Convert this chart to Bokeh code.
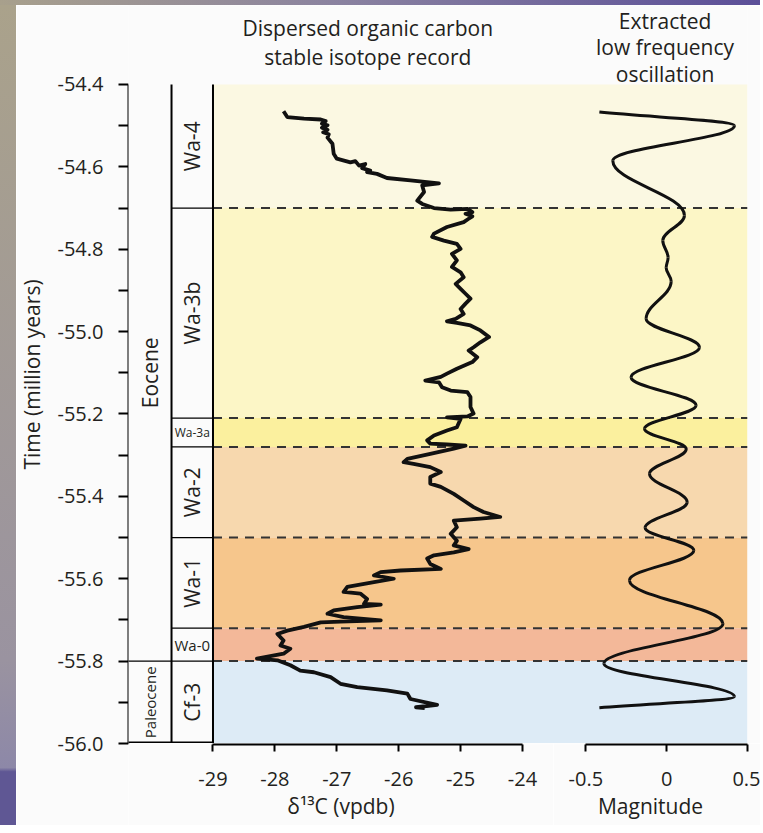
import math
from bokeh.plotting import figure
from bokeh.layouts import row, column
from bokeh.models import (ColumnDataSource, FixedTicker, Range1d, PrintfTickFormatter,
                          CustomJSTickFormatter, Div)
from bokeh.core.properties import value
from bokeh.embed import file_html
from bokeh.resources import INLINE

# ---------------- data ----------------
zone_names = ["Wa-4", "Wa-3b", "Wa-3a", "Wa-2", "Wa-1", "Wa-0", "Cf-3"]
zone_top = [-54.4, -54.7, -55.21, -55.28, -55.5, -55.72, -55.8]
zone_bottom = [-54.7, -55.21, -55.28, -55.5, -55.72, -55.8, -56.0]
zone_colors = ["#fbf8e2", "#fcf6c6", "#fbf09e", "#f7d8ae", "#f6c68c", "#f3b899", "#ddebf6"]

epoch_names = ["Eocene", "Paleocene"]
epoch_top = [-54.4, -55.8]
epoch_bottom = [-55.8, -56.0]

d13c_age = [
    -54.465, -54.479, -54.483, -54.485, -54.489, -54.495, -54.499, -54.505, -54.510, -54.516,
    -54.521, -54.529, -54.544, -54.568, -54.580, -54.589, -54.586, -54.597, -54.593, -54.603,
    -54.609, -54.613, -54.617, -54.627, -54.633, -54.640, -54.645, -54.661, -54.682, -54.690,
    -54.700, -54.704, -54.702, -54.710, -54.714, -54.720, -54.726, -54.734, -54.746, -54.762,
    -54.770, -54.779, -54.787, -54.799, -54.811, -54.827, -54.843, -54.856, -54.868, -54.884,
    -54.896, -54.908, -54.920, -54.932, -54.945, -54.957, -54.969, -54.975, -54.979, -54.985,
    -54.997, -55.013, -55.026, -55.038, -55.046, -55.062, -55.074, -55.090, -55.102, -55.110,
    -55.119, -55.123, -55.135, -55.143, -55.147, -55.159, -55.183, -55.199, -55.206, -55.208,
    -55.212, -55.232, -55.240, -55.252, -55.264, -55.272, -55.274, -55.277, -55.284, -55.297,
    -55.309, -55.317, -55.321, -55.329, -55.341, -55.353, -55.369, -55.377, -55.394, -55.410,
    -55.426, -55.438, -55.450, -55.454, -55.459, -55.475, -55.491, -55.508, -55.519, -55.528,
    -55.536, -55.543, -55.551, -55.564, -55.576, -55.580, -55.584, -55.592, -55.600, -55.608,
    -55.620, -55.632, -55.636, -55.649, -55.661, -55.663, -55.669, -55.677, -55.685, -55.693,
    -55.701, -55.704, -55.706, -55.717, -55.726, -55.734, -55.750, -55.762, -55.770, -55.782,
    -55.794, -55.798, -55.810, -55.823, -55.827, -55.839, -55.855, -55.863, -55.871, -55.879,
    -55.892, -55.906, -55.912, -55.914]
d13c_value = [
    -27.86, -27.80, -27.53, -27.26, -27.18, -27.24, -27.15, -27.24, -27.15, -27.22,
    -27.13, -27.15, -27.07, -27.05, -27.00, -26.78, -26.70, -26.64, -26.54, -26.59,
    -26.46, -26.51, -26.35, -26.19, -25.81, -25.35, -25.62, -25.59, -25.70, -25.62,
    -25.43, -25.16, -24.89, -24.81, -24.92, -24.81, -24.87, -24.95, -25.22, -25.43,
    -25.46, -25.27, -25.06, -25.00, -25.14, -25.06, -25.14, -25.00, -24.95, -25.08,
    -25.00, -24.92, -24.84, -24.92, -25.00, -24.95, -25.08, -25.22, -25.06, -24.84,
    -24.68, -24.54, -24.68, -24.79, -24.87, -24.73, -24.81, -25.06, -25.22, -25.32,
    -25.57, -25.35, -25.30, -25.16, -24.89, -24.84, -24.84, -24.79, -24.89, -25.22,
    -25.00, -25.06, -25.22, -25.43, -25.54, -25.49, -25.22, -24.92, -25.11, -25.49,
    -25.86, -25.92, -25.76, -25.49, -25.32, -25.49, -25.49, -25.32, -25.11, -24.95,
    -24.79, -24.63, -24.36, -24.68, -25.11, -25.06, -25.16, -25.06, -25.11, -24.87,
    -25.11, -25.43, -25.54, -25.49, -25.32, -25.97, -26.29, -26.40, -26.08, -26.40,
    -26.83, -26.89, -26.62, -26.51, -26.56, -26.29, -26.67, -27.05, -27.15, -26.89,
    -26.29, -26.94, -27.26, -27.53, -27.80, -27.96, -27.86, -27.91, -27.75, -27.86,
    -28.29, -27.96, -27.75, -27.59, -27.37, -27.10, -26.94, -26.67, -26.19, -25.86,
    -25.81, -25.38, -25.72, -25.58]

# turning points of the extracted low frequency oscillation
osc_age = [-54.467, -54.500, -54.585, -54.718, -54.779, -54.820, -54.845, -54.878, -54.969,
           -55.038, -55.111, -55.179, -55.236, -55.285, -55.345, -55.414, -55.476, -55.531,
           -55.604, -55.709, -55.806, -55.886, -55.913]
osc_mag = [-0.416, 0.419, -0.333, 0.110, -0.024, 0.009, -0.003, 0.028, -0.127,
           0.203, -0.220, 0.182, -0.137, 0.121, -0.106, 0.127, -0.133, 0.168,
           -0.230, 0.348, -0.388, 0.419, -0.416]

y_ticks = [-56.0, -55.8, -55.6, -55.4, -55.2, -55.0, -54.8, -54.6, -54.4]
y_minor_ticks = [-55.9, -55.7, -55.5, -55.3, -55.1, -54.9, -54.7, -54.5]
x_ticks = [-29, -28, -27, -26, -25, -24]
mag_ticks = [-0.5, 0.0, 0.5]

# ---------------- layout constants ----------------
FONT = "Open Sans"
TXT = "#231f20"
BG = "#fbfbfb"
PX_D = 61.9                    # px per isotope unit
PX_M = 161.7                   # px per magnitude unit
FRAME_W = 619                  # width of the main panel frame
ISO_W = 425                    # width of the isotope axis strip frame
MAG_W = 194                    # width of the magnitude axis strip frame
X0, X1 = -29.0, -24.0          # isotope axis
XL = -30.365                   # frame left (= time axis) in isotope units
XR = XL + FRAME_W / PX_D
COL_MID = -29.67               # epoch | zone column divider
Y0, YTOP, YFRAME = -56.0, -54.4, -54.2082
M0, M1 = -0.5, 0.5
ML = M1 - FRAME_W / PX_M
MAIN_H = 738
AX_H = 82

yr = Range1d(Y0, YFRAME)

def style_axis(ax, size="20px"):
    ax.axis_line_width = 2
    ax.axis_line_color = "black"
    ax.major_tick_line_width = 2
    ax.minor_tick_line_width = 2
    ax.major_tick_line_color = "black"
    ax.minor_tick_line_color = "black"
    ax.major_tick_in = 0
    ax.minor_tick_in = 0
    ax.major_label_text_font = FONT
    ax.major_label_text_font_size = size
    ax.major_label_text_color = TXT
    ax.axis_label_text_font = FONT
    ax.axis_label_text_font_size = "21px"
    ax.axis_label_text_font_style = "normal"
    ax.axis_label_text_color = TXT

def bare(f):
    f.outline_line_color = None
    f.grid.visible = False
    return f

# ---------------- time axis panel ----------------
py = bare(figure(width=112, height=MAIN_H + AX_H, x_range=Range1d(0, 1), y_range=yr,
                 output_backend="svg", toolbar_location=None, x_axis_location=None,
                 min_border_left=111, min_border_right=0, min_border_top=0,
                 min_border_bottom=AX_H, background_fill_color=BG, border_fill_color=BG))
ya = py.yaxis[0]
style_axis(ya)
ya.bounds = (Y0, YTOP)
ya.ticker = FixedTicker(ticks=y_ticks, minor_ticks=y_minor_ticks)
ya.formatter = PrintfTickFormatter(format="%.1f")
ya.major_tick_out = 10
ya.minor_tick_out = 10
ya.major_label_standoff = 15
ya.axis_label = "Time (million years)"
ya.axis_label_standoff = 9

# ---------------- main panel ----------------
p = bare(figure(width=FRAME_W + 13, height=MAIN_H, x_range=Range1d(XL, XR), y_range=yr,
                output_backend="svg", toolbar_location=None, x_axis_location=None,
                y_axis_location=None,
                min_border_left=0, min_border_right=13, min_border_top=0, min_border_bottom=0,
                background_fill_color=BG, border_fill_color=BG))
p.extra_x_ranges = {"mag": Range1d(ML, M1)}

zsrc = ColumnDataSource(dict(
    name=zone_names, top=zone_top, bottom=zone_bottom, color=zone_colors,
    mid=[(a + b) / 2 for a, b in zip(zone_top, zone_bottom)],
    angle=[math.pi / 2 if (a - b) > 0.1 else 0 for a, b in zip(zone_top, zone_bottom)],
    size=["21px" if (a - b) > 0.1 else ("15px" if (a - b) > 0.075 else "12px")
          for a, b in zip(zone_top, zone_bottom)],
))
bounds = zone_top[1:]
mag_of_x0 = ML + (X0 - XL) * PX_D / PX_M

# coloured zone bands across both panels (right edge = end of the magnitude axis)
p.quad(left=mag_of_x0, right=M1, top="top", bottom="bottom", fill_color="color",
       line_color=None, source=zsrc, x_range_name="mag")
p.segment(x0=mag_of_x0, x1=M1, y0=bounds, y1=bounds, line_color="#333333",
          line_width=2, line_dash="9 7", x_range_name="mag")

# zone column separators
p.segment(x0=COL_MID, x1=X0, y0=bounds, y1=bounds, line_color="black", line_width=1.3)
# epoch separators
p.segment(x0=XL - 1, x1=COL_MID, y0=epoch_top[1:], y1=epoch_top[1:], line_color="black",
          line_width=1.3)
# column verticals
p.segment(x0=[COL_MID, X0], x1=[COL_MID, X0], y0=Y0, y1=YTOP, line_color="black",
          line_width=2)
# bottom edge of the columns
p.segment(x0=XL - 1, x1=X0, y0=Y0, y1=Y0, line_color="black", line_width=4)

p.text(x=(COL_MID + X0) / 2, y="mid", text="name", angle="angle",
       text_font_size="size", text_font=value(FONT), text_color=TXT,
       text_align="center", text_baseline="middle", source=zsrc)

esrc = ColumnDataSource(dict(
    name=epoch_names,
    mid=[(a + b) / 2 for a, b in zip(epoch_top, epoch_bottom)],
    size=["21px" if (a - b) > 0.5 else "15px" for a, b in zip(epoch_top, epoch_bottom)],
))
p.text(x=(XL + COL_MID) / 2, y="mid", text="name", angle=math.pi / 2,
       text_font_size="size", text_font=value(FONT), text_color=TXT,
       text_align="center", text_baseline="middle", source=esrc)

# isotope record
p.line(d13c_value, d13c_age, line_width=3.8, line_color="#111111", line_join="round")

p.text(x=[(X0 + X1) / 2] * 2, y=[-54.264, -54.3344],
       text=["Dispersed organic carbon", "stable isotope record"],
       text_font=value(FONT), text_font_size="21px", text_color=TXT,
       text_align="center", text_baseline="middle")

# smooth oscillation curve through the turning points (vertical tangents there)
k = 0.38
n = len(osc_age)
bx0, by0, bx1, by1, cx0, cy0, cx1, cy1 = [], [], [], [], [], [], [], []
for i in range(n - 1):
    a1, m1, a2, m2 = osc_age[i], osc_mag[i], osc_age[i + 1], osc_mag[i + 1]
    da = a2 - a1
    bx0.append(m1); by0.append(a1); bx1.append(m2); by1.append(a2)
    if i == 0:
        cx0.append(m1 + k * (m2 - m1)); cy0.append(a1 + k * da)
    else:
        cx0.append(m1); cy0.append(a1 + k * da)
    if i == n - 2:
        cx1.append(m2 - k * (m2 - m1)); cy1.append(a2 - k * da)
    else:
        cx1.append(m2); cy1.append(a2 - k * da)
p.bezier(x0=bx0, y0=by0, x1=bx1, y1=by1, cx0=cx0, cy0=cy0, cx1=cx1, cy1=cy1,
         line_color="#111111", line_width=3, x_range_name="mag")

p.text(x=[-0.01] * 3, y=[-54.247, -54.310, -54.3757],
       text=["Extracted", "low frequency", "oscillation"],
       text_font=value(FONT), text_font_size="21px", text_color=TXT,
       text_align="center", text_baseline="middle", x_range_name="mag")

# ---------------- bottom axis strips ----------------
def axis_strip(width, xr, right):
    return bare(figure(width=width, height=AX_H, x_range=xr, y_range=Range1d(0, 1),
                       output_backend="svg", toolbar_location=None, y_axis_location=None,
                       min_border_left=0, min_border_right=right, min_border_top=0,
                       min_border_bottom=AX_H - 1, background_fill_color=BG,
                       border_fill_color=BG))

pa = axis_strip(ISO_W, Range1d(XL, XL + ISO_W / PX_D), 0)
xa = pa.xaxis[0]
style_axis(xa)
xa.bounds = (X0, X1)
xa.ticker = FixedTicker(ticks=x_ticks)
xa.formatter = PrintfTickFormatter(format="%d")
xa.major_tick_out = 7
xa.major_label_standoff = 20
xa.axis_label = "δ¹³C (vpdb)"
xa.axis_label_standoff = 3

pb = axis_strip(MAG_W + 13, Range1d(M1 - MAG_W / PX_M, M1), 13)
ma = pb.xaxis[0]
style_axis(ma)
ma.bounds = (M0, M1)
ma.ticker = FixedTicker(ticks=mag_ticks)
ma.formatter = CustomJSTickFormatter(code="return tick == 0 ? '0' : tick.toFixed(1);")
ma.major_tick_out = 7
ma.major_label_standoff = 20
ma.axis_label = "Magnitude"
ma.axis_label_standoff = 3

# slide frame strips around the chart
top_strip = Div(text="", width=760, height=5, margin=0,
                styles={"background": "linear-gradient(to right, #a8a08c 0%, #8a82a0 45%, #5b4f98 100%)"})
left_strip = Div(text="", width=16, height=MAIN_H + AX_H, margin=0,
                 styles={"background": "linear-gradient(to bottom, #aaa28b 0%, #9a93a0 80%, #8d88a8 93%, #5f5794 93.5%, #5f5794 100%)"})

layout = column(top_strip, row(left_strip, py, column(p, row(pa, pb))))
open("out.html", "w").write(file_html(layout, INLINE))
